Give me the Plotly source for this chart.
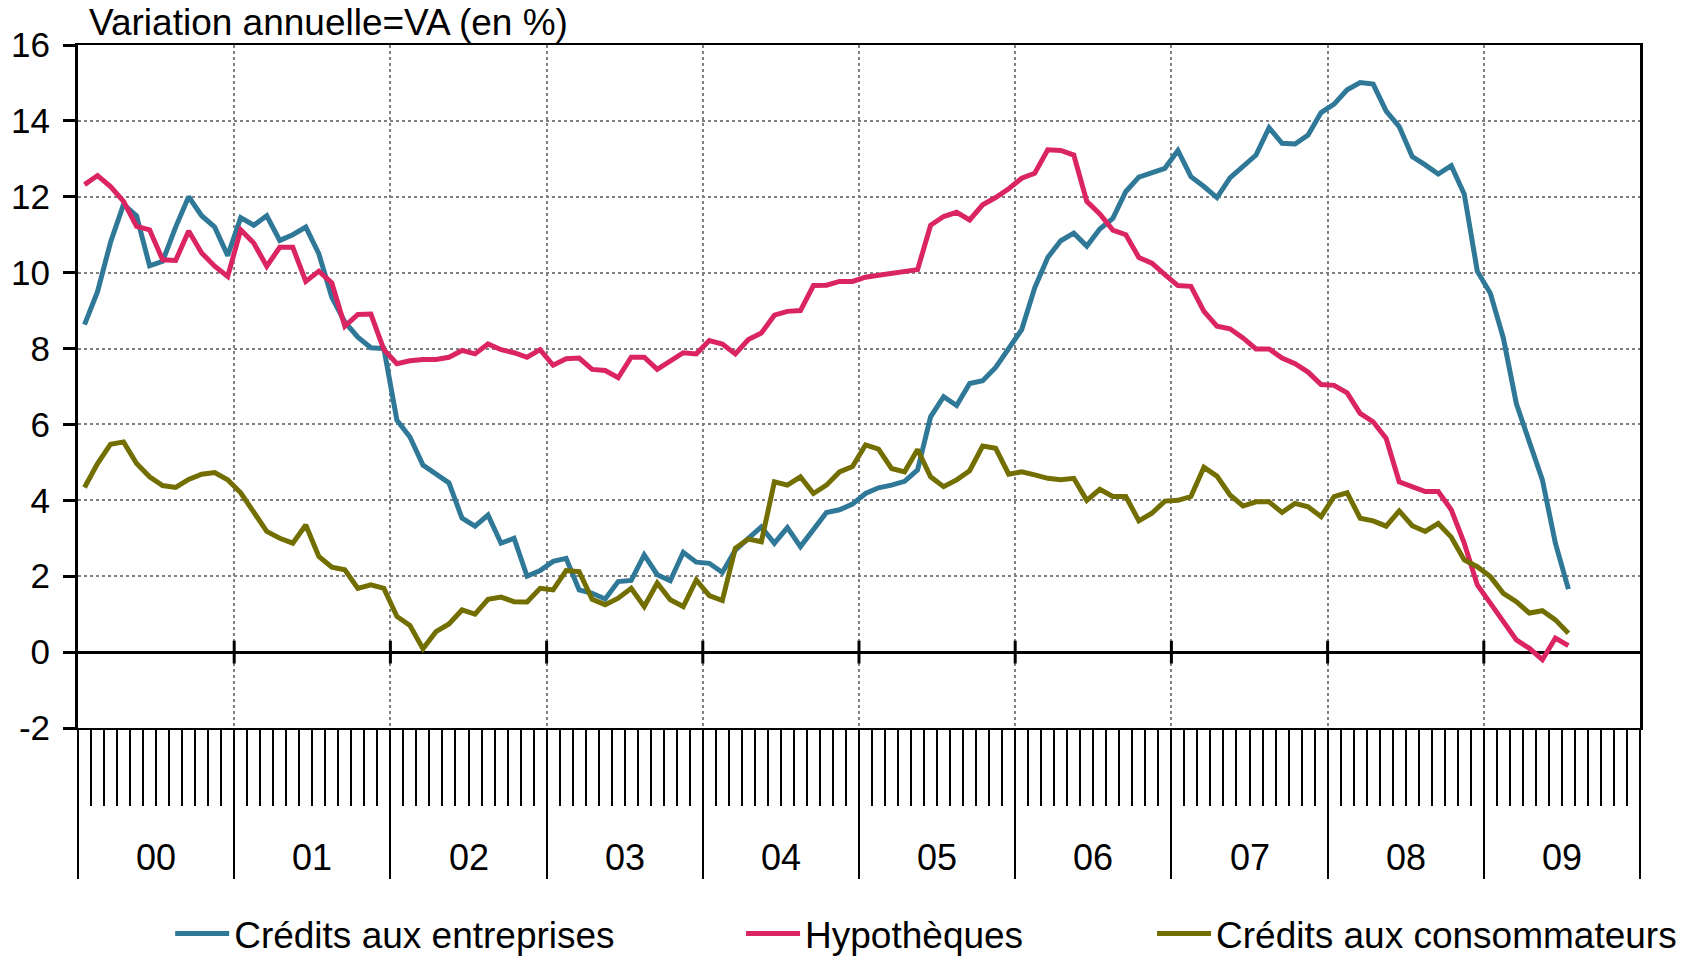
import plotly.graph_objects as go

# monthly data, Jan 2000 - Jul 2009 (annual change, %)
credits_entreprises = [
    8.63, 9.5, 10.8, 11.8, 11.5, 10.18, 10.3, 11.2, 12.0, 11.5, 11.2, 10.45,
    11.45, 11.25, 11.5, 10.85, 11.0, 11.2, 10.5, 9.35, 8.7, 8.3, 8.02, 8.0,
    6.11, 5.67, 4.93, 4.71, 4.46, 3.53, 3.32, 3.61, 2.87, 3.0, 2.0, 2.15,
    2.39, 2.47, 1.64, 1.55, 1.4, 1.86, 1.89, 2.56, 2.04, 1.88, 2.63, 2.37,
    2.34, 2.1, 2.69, 3.0, 3.3, 2.87, 3.28, 2.78, 3.22, 3.68, 3.75, 3.9,
    4.18, 4.33, 4.4, 4.5, 4.8, 6.2, 6.73, 6.5, 7.08, 7.15, 7.5, 8.02,
    8.5, 9.6, 10.4, 10.84, 11.04, 10.7, 11.15, 11.43, 12.14, 12.52, 12.62, 12.75,
    13.22, 12.53, 12.27, 11.98, 12.5, 12.8, 13.1, 13.82, 13.41, 13.39, 13.63, 14.22,
    14.44, 14.82, 15.01, 14.97, 14.26, 13.85, 13.06, 12.84, 12.6, 12.82, 12.07, 10.04,
    9.46, 8.28, 6.55, 5.54, 4.54, 2.87, 1.66,
]
hypotheques = [
    12.32, 12.56, 12.27, 11.88, 11.22, 11.13, 10.34, 10.32, 11.1, 10.52, 10.17, 9.9,
    11.13, 10.78, 10.17, 10.67, 10.67, 9.77, 10.04, 9.73, 8.59, 8.9, 8.91, 7.97,
    7.6, 7.68, 7.71, 7.71, 7.77, 7.95, 7.86, 8.12, 7.97, 7.89, 7.77, 7.97,
    7.56, 7.73, 7.75, 7.45, 7.42, 7.23, 7.77, 7.77, 7.45, 7.68, 7.89, 7.86,
    8.21, 8.12, 7.86, 8.24, 8.41, 8.88, 8.98, 9.0, 9.66, 9.67, 9.77, 9.77,
    9.88, 9.93, 9.99, 10.04, 10.08, 11.25, 11.48, 11.59, 11.39, 11.79, 11.98, 12.21,
    12.49, 12.62, 13.24, 13.22, 13.1, 11.88, 11.55, 11.12, 11.0, 10.4, 10.25, 9.95,
    9.66, 9.64, 8.98, 8.59, 8.52, 8.28, 7.99, 7.99, 7.75, 7.6, 7.38, 7.05,
    7.03, 6.83, 6.29, 6.07, 5.63, 4.49, 4.36, 4.23, 4.23, 3.75, 2.87, 1.77,
    1.29, 0.81, 0.32, 0.1, -0.2, 0.37, 0.17,
]
credits_consommateurs = [
    4.34, 4.97, 5.48, 5.54, 4.97, 4.62, 4.39, 4.34, 4.55, 4.69, 4.73, 4.54,
    4.2, 3.7, 3.18, 3.0, 2.87, 3.35, 2.52, 2.24, 2.17, 1.68, 1.77, 1.68,
    0.94, 0.7, 0.09, 0.54, 0.74, 1.11, 1.0, 1.39, 1.45, 1.33, 1.32, 1.68,
    1.64, 2.15, 2.12, 1.39, 1.25, 1.42, 1.68, 1.2, 1.82, 1.38, 1.2, 1.9,
    1.49, 1.36, 2.74, 2.98, 2.91, 4.49, 4.4, 4.62, 4.18, 4.4, 4.75, 4.89,
    5.46, 5.35, 4.84, 4.75, 5.34, 4.62, 4.36, 4.54, 4.78, 5.43, 5.37, 4.69,
    4.75, 4.67, 4.58, 4.54, 4.58, 4.0, 4.29, 4.1, 4.1, 3.46, 3.66, 3.98,
    4.0, 4.1, 4.87, 4.64, 4.14, 3.85, 3.96, 3.96, 3.68, 3.92, 3.83, 3.57,
    4.1, 4.2, 3.53, 3.46, 3.32, 3.72, 3.33, 3.18, 3.39, 3.03, 2.43, 2.25,
    1.99, 1.55, 1.33, 1.03, 1.09, 0.85, 0.5,
]
year_labels = ["00", "01", "02", "03", "04", "05", "06", "07", "08", "09"]
y_ticks = [-2, 0, 2, 4, 6, 8, 10, 12, 14, 16]

# x = month index, points at mid-month
months = [i + 0.5 for i in range(len(credits_entreprises))]

FONT = "Arial, Liberation Sans, sans-serif"
series = [
    ("Crédits aux entreprises", credits_entreprises, "#2F7898", "legend", 0.059),
    ("Hypothèques", hypotheques, "#DA2562", "legend2", 0.4245),
    ("Crédits aux consommateurs", credits_consommateurs, "#726E00", "legend3", 0.6876),
]

fig = go.Figure()
for name, vals, color, leg, _ in series:
    fig.add_trace(go.Scatter(x=months, y=vals, name=name, mode="lines", showlegend=True,
                             line=dict(color=color, width=5), legend=leg))

legend_style = dict(orientation="h", yref="container", yanchor="middle", y=0.023,
                    xanchor="left", font=dict(size=37, color="black", family=FONT),
                    itemwidth=54, bgcolor="rgba(0,0,0,0)")
fig.update_layout(
    showlegend=True,
    legend=dict(x=series[0][4], **legend_style),
    legend2=dict(x=series[1][4], **legend_style),
    legend3=dict(x=series[2][4], **legend_style),
)

n_years = len(year_labels)
fig.update_xaxes(
    range=[0, 12 * n_years], tick0=0, dtick=12, automargin=False,
    ticks="outside", ticklen=149, tickwidth=2, tickcolor="black",
    showticklabels=False,
    showgrid=True, gridcolor="#808080", griddash="dot", gridwidth=2,
    showline=True, linecolor="black", linewidth=2, mirror=True,
    zeroline=False,
    minor=dict(tick0=0, dtick=1, ticks="outside", ticklen=76, tickwidth=2,
               tickcolor="black", showgrid=False),
)
fig.update_yaxes(
    range=[-2, 16], tickvals=y_ticks, ticktext=[str(v) for v in y_ticks],
    automargin=False,
    ticks="outside", ticklen=12, tickwidth=3, tickcolor="black",
    ticklabelstandoff=6,
    tickfont=dict(size=35, color="black", family=FONT),
    showgrid=True, gridcolor="#808080", griddash="dot", gridwidth=2,
    showline=True, linecolor="black", linewidth=3, mirror=True,
    zeroline=True, zerolinecolor="black", zerolinewidth=3,
)

# short marks crossing the zero line at each year boundary
for k in range(1, n_years):
    fig.add_shape(type="line", xref="x", yref="y", x0=12 * k, x1=12 * k,
                  y0=-0.3, y1=0.3, line=dict(color="black", width=3))

for k, lab in enumerate(year_labels):
    fig.add_annotation(x=12 * k + 6, xref="x", y=-0.189, yref="paper",
                       text=lab, showarrow=False, yanchor="middle",
                       font=dict(size=36, color="black", family=FONT))

fig.add_annotation(x=0.006, xref="paper", y=1.033, yref="paper",
                   text="Variation annuelle=VA (en %)", showarrow=False,
                   xanchor="left", yanchor="middle",
                   font=dict(size=37, color="black", family=FONT))

fig.update_layout(
    width=1695, height=956,
    margin=dict(l=78, r=55, t=45, b=228, autoexpand=False),
    paper_bgcolor="white", plot_bgcolor="white",
    font=dict(family=FONT, color="black"),
)

# drop the default 8px page margin so the figure fills the window
fig.write_html("out.html", config={"displayModeBar": False},
               post_script="document.body.style.margin = '0';")
